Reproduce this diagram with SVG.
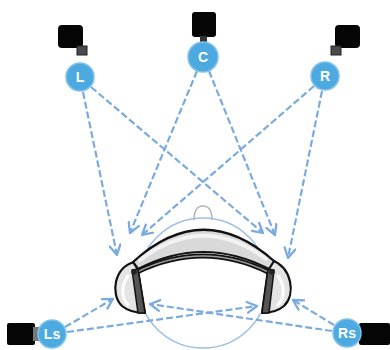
<svg xmlns="http://www.w3.org/2000/svg" width="390" height="350" viewBox="0 0 390 350">
  <defs>
    <marker id="arrow" viewBox="0 0 12 12" refX="10" refY="6" markerWidth="13" markerHeight="13" markerUnits="userSpaceOnUse" orient="auto">
      <path d="M1,1 L10,6 L1,11" fill="none" stroke="#7aaade" stroke-width="2.1" stroke-dasharray="none" stroke-linecap="round" stroke-linejoin="round"/>
    </marker>
  </defs>
  <style>
    .box { fill: #050505; }
    .plug { fill: #4a4a4a; stroke: #222; stroke-width: 1; }
    .badge { fill: #4caae0; stroke: #80c2ea; stroke-width: 1.5; }
    .lbl { font-family: "Liberation Sans", Arial, sans-serif; font-weight: bold; font-size: 14px; fill: #ffffff; text-anchor: middle; }
    .wire { fill: none; stroke: #7aaade; stroke-width: 2.2; stroke-dasharray: 7 3; marker-end: url(#arrow); }
    .outline { stroke: #111; stroke-width: 2.2; stroke-linejoin: round; }
  </style>
  <rect width="390" height="350" fill="#ffffff"/>

  <!-- listener: head outline and headphones -->
  <g id="listener">
    <path d="M194,220 Q194,206 203,206 Q212,206 212,220" fill="none" stroke="#b5b5b5" stroke-width="1.5"/>
    <circle cx="203" cy="283" r="65" fill="none" stroke="#9cc0e6" stroke-width="1.6"/>
    <!-- space between the ear cups -->
    <path d="M138,268 Q203,236 268,268 L264,313 L143,313 Z" fill="#ffffff"/>
    <!-- left ear cup -->
    <path d="M134,262 C114,268 110,294 122,306 C128,311 136,313 145,313 L138,270 Z" fill="#e4e4e4" class="outline"/>
    <path d="M128,276 C121,285 121,298 128,305" fill="none" stroke="#ffffff" stroke-width="3" stroke-linecap="round"/>
    <!-- right ear cup -->
    <path d="M272,260 C292,268 296,294 284,306 C278,311 270,313 262,313 L268,270 Z" fill="#e4e4e4" class="outline"/>
    <path d="M278,276 C285,285 285,298 278,305" fill="none" stroke="#ffffff" stroke-width="3" stroke-linecap="round"/>
    <!-- headband -->
    <path d="M133,262 Q203,198 274,261 L269,269 Q203,235 138,269 Z" fill="#d9d9d9" class="outline"/>
    <path d="M140,260 Q203,212 266,259" fill="none" stroke="#f2f2f2" stroke-width="4" stroke-linecap="round"/>
    <path d="M137,272 Q203,240 268,272" fill="none" stroke="#111" stroke-width="5"/>
    <path d="M137,272 Q203,240 268,272" fill="none" stroke="#9a9a9a" stroke-width="1.6"/>
    <!-- side bars -->
    <path d="M132,270 L138,269 L145,313 L138,313 Z" fill="#555" stroke="#111" stroke-width="1.5" stroke-linejoin="round"/>
    <path d="M268,269 L274,270 L269,313 L262,313 Z" fill="#555" stroke="#111" stroke-width="1.5" stroke-linejoin="round"/>
    <circle cx="134" cy="272" r="2.8" fill="#222"/>
    <circle cx="272" cy="272" r="2.8" fill="#222"/>
  </g>

  <!-- paths from each speaker to the ears -->
  <g id="connectors">
    <line class="wire" x1="83" y1="92" x2="117" y2="255"/>
    <line class="wire" x1="91" y1="87" x2="263" y2="233"/>
    <line class="wire" x1="197" y1="71" x2="130" y2="233"/>
    <line class="wire" x1="209" y1="71" x2="275" y2="235"/>
    <line class="wire" x1="314" y1="86" x2="142" y2="235"/>
    <line class="wire" x1="322" y1="91" x2="288" y2="258"/>
    <line class="wire" x1="65" y1="327" x2="113" y2="299"/>
    <line class="wire" x1="67" y1="332" x2="257" y2="306"/>
    <line class="wire" x1="334" y1="325" x2="293" y2="300"/>
    <line class="wire" x1="332" y1="331" x2="150" y2="304"/>
  </g>

  <!-- speakers -->
  <g id="speaker-L">
    <rect class="box" x="58" y="25" width="25" height="23" rx="4"/>
    <rect class="plug" x="77" y="46" width="10" height="9"/>
    <circle class="badge" cx="80" cy="77" r="14"/>
    <text class="lbl" x="80" y="82">L</text>
  </g>
  <g id="speaker-C">
    <rect class="box" x="192" y="12" width="24" height="25" rx="3"/>
    <rect x="200" y="36" width="7" height="6" fill="#333"/>
    <circle class="badge" cx="203" cy="57" r="15"/>
    <text class="lbl" x="203" y="62">C</text>
  </g>
  <g id="speaker-R">
    <rect class="box" x="335" y="25" width="25" height="23" rx="4"/>
    <rect class="plug" x="331" y="46" width="10" height="9"/>
    <circle class="badge" cx="325" cy="76" r="14"/>
    <text class="lbl" x="325" y="81">R</text>
  </g>
  <g id="speaker-Ls">
    <rect class="box" x="7" y="323" width="28" height="22" rx="2"/>
    <rect x="33" y="327" width="8" height="14" fill="#777"/>
    <circle class="badge" cx="52" cy="334" r="14"/>
    <text class="lbl" x="52" y="339">Ls</text>
  </g>
  <g id="speaker-Rs">
    <rect class="box" x="359" y="323" width="31" height="22" rx="2"/>
    <circle class="badge" cx="347" cy="333" r="14"/>
    <text class="lbl" x="347" y="338">Rs</text>
  </g>
</svg>
